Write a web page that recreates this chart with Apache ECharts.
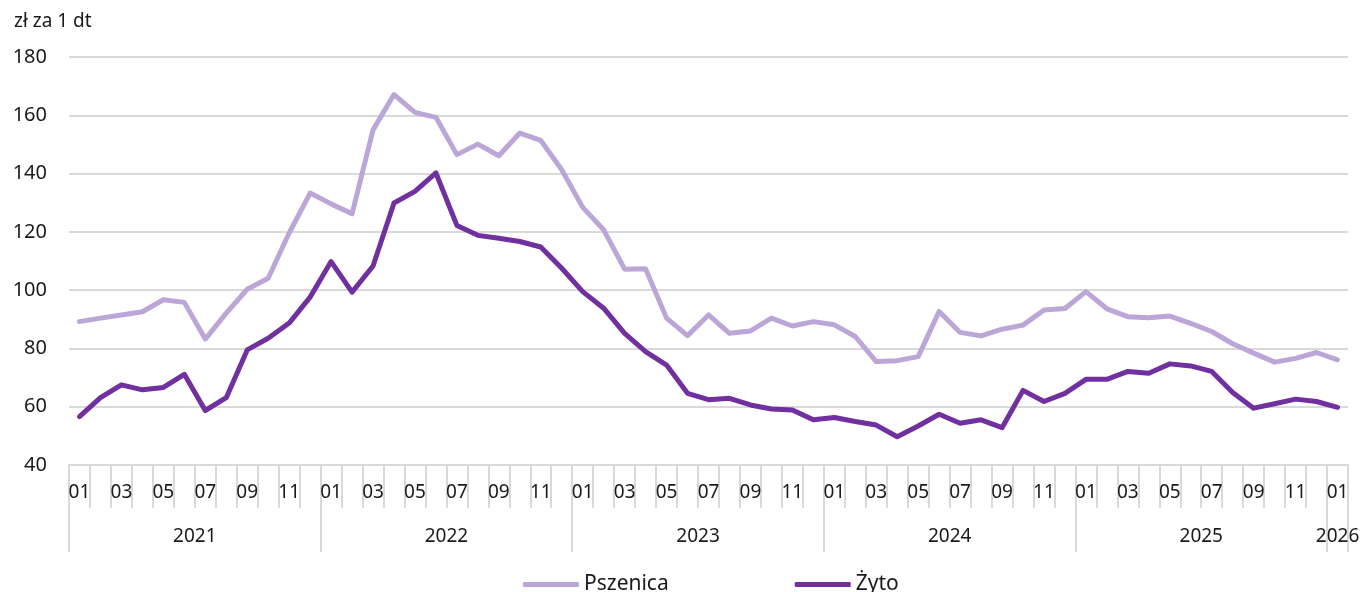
<!DOCTYPE html>
<html>
<head>
    <meta charset="utf-8" />
    <title>Ceny skupu zbóż</title>
    <script type="text/javascript" src="https://cdn.jsdelivr.net/npm/echarts@6/dist/echarts.min.js"></script>
    <style>
        html, body { margin: 0; padding: 0; background: #fff; }
    </style>
</head>
<body>
<div id="main" style="width: 1363px;height:592px;"></div>
<script type="text/javascript">
    // lata i miesiące na osi X (2021-01 ... 2026-01)
    var years = ['2021', '2022', '2023', '2024', '2025', '2026'];
    var monthNames = ['01', '02', '03', '04', '05', '06', '07', '08', '09', '10', '11', '12'];
    var categories = [];
    years.forEach(function (y) {
        monthNames.forEach(function (m) {
            if (y === '2026' && m !== '01') return;
            categories.push(y + '-' + m);
        });
    });

    // zł za 1 dt
    var pszenica = [89.2, 90.4, 91.5, 92.6, 96.7, 95.8, 83.2, 92.1, 100.3, 104.1, 119.6, 133.3,
        129.6, 126.2, 155.0, 167.1, 161.0, 159.3, 146.5, 150.1, 146.1, 153.9, 151.4, 141.3,
        128.4, 120.7, 107.2, 107.3, 90.4, 84.4, 91.5, 85.2, 86.0, 90.4, 87.7, 89.2,
        88.1, 84.1, 75.5, 75.8, 77.2, 92.7, 85.5, 84.3, 86.6, 88.0, 93.2, 93.7,
        99.5, 93.6, 90.9, 90.5, 91.1, 88.6, 85.8, 81.6, 78.4, 75.3, 76.6, 78.6,
        76.1];
    var zyto = [56.6, 63.1, 67.5, 65.8, 66.6, 71.1, 58.7, 63.1, 79.5, 83.5, 88.7, 97.6,
        109.8, 99.3, 108.3, 129.9, 133.9, 140.2, 122.2, 118.8, 117.8, 116.7, 114.8, 107.5,
        99.5, 93.8, 85.2, 78.9, 74.3, 64.6, 62.4, 62.9, 60.6, 59.2, 58.9, 55.5,
        56.3, 54.9, 53.7, 49.7, 53.4, 57.4, 54.3, 55.5, 52.8, 65.6, 61.8, 64.6,
        69.4, 69.4, 72.1, 71.5, 74.7, 74.0, 72.1, 64.9, 59.5, 61.0, 62.6, 61.8,
        59.8];
    var yTicks = [40, 60, 80, 100, 120, 140, 160, 180];

    var font = 'Noto Sans';
    var gridColor = '#d9d9d9';

    var myChart = echarts.init(document.getElementById('main'));
    var option = {
        animation: false,
        textStyle: { fontFamily: font },
        title: {
            text: 'zł za 1 dt',
            left: 9,
            top: 7,
            textStyle: { fontFamily: font, fontSize: 19, fontWeight: 'normal', color: '#1a1a1a' }
        },
        legend: {
            left: 518,
            top: 569,
            itemWidth: 56,
            itemHeight: 5,
            itemGap: 126,
            icon: 'roundRect',
            textStyle: { fontFamily: font, fontSize: 21, color: '#1a1a1a' },
            data: ['Pszenica', 'Żyto']
        },
        grid: {
            left: 69,
            right: 15,
            top: 57,
            bottom: 127
        },
        xAxis: [
            {
                type: 'category',
                data: categories,
                boundaryGap: true,
                axisLine: { lineStyle: { color: gridColor, width: 2 } },
                axisTick: { show: true, interval: 0, length: 43, lineStyle: { color: gridColor, width: 2 } },
                axisLabel: {
                    interval: 1,
                    margin: 18,
                    fontSize: 19,
                    color: '#1a1a1a',
                    formatter: function (v) { return v.split('-')[1]; }
                }
            },
            {
                type: 'category',
                data: categories,
                position: 'bottom',
                boundaryGap: true,
                axisLine: { show: false },
                axisTick: {
                    show: true,
                    interval: function (i) { return i % 12 === 0; },
                    length: 87,
                    lineStyle: { color: gridColor, width: 2 }
                },
                axisLabel: {
                    interval: function (i) { return i % 12 === 5 || i === categories.length - 1; },
                    margin: 62,
                    fontSize: 19,
                    color: '#1a1a1a',
                    formatter: function (v, i) {
                        var y = v.split('-')[0];
                        // etykieta roku na środku grupy 12 miesięcy
                        return i % 12 === 5 ? '{a|' + y + '}' : y;
                    },
                    rich: { a: { padding: [0, 0, 0, 21], fontSize: 19, fontFamily: font, color: '#1a1a1a' } }
                }
            }
        ],
        yAxis: {
            type: 'value',
            min: yTicks[0],
            max: yTicks[yTicks.length - 1],
            interval: 20,
            axisLine: { show: false },
            axisTick: { show: false },
            axisLabel: { fontSize: 20, color: '#1a1a1a', margin: 22 },
            splitLine: { lineStyle: { color: gridColor, width: 2 } }
        },
        series: [
            {
                name: 'Pszenica',
                type: 'line',
                data: pszenica,
                symbol: 'none',
                color: '#bba6d7',
                lineStyle: { width: 5, join: 'round', cap: 'round' }
            },
            {
                name: 'Żyto',
                type: 'line',
                data: zyto,
                symbol: 'none',
                color: '#7030a0',
                lineStyle: { width: 5, join: 'round', cap: 'round' }
            }
        ]
    };
    myChart.setOption(option);
</script>
</body>
</html>
